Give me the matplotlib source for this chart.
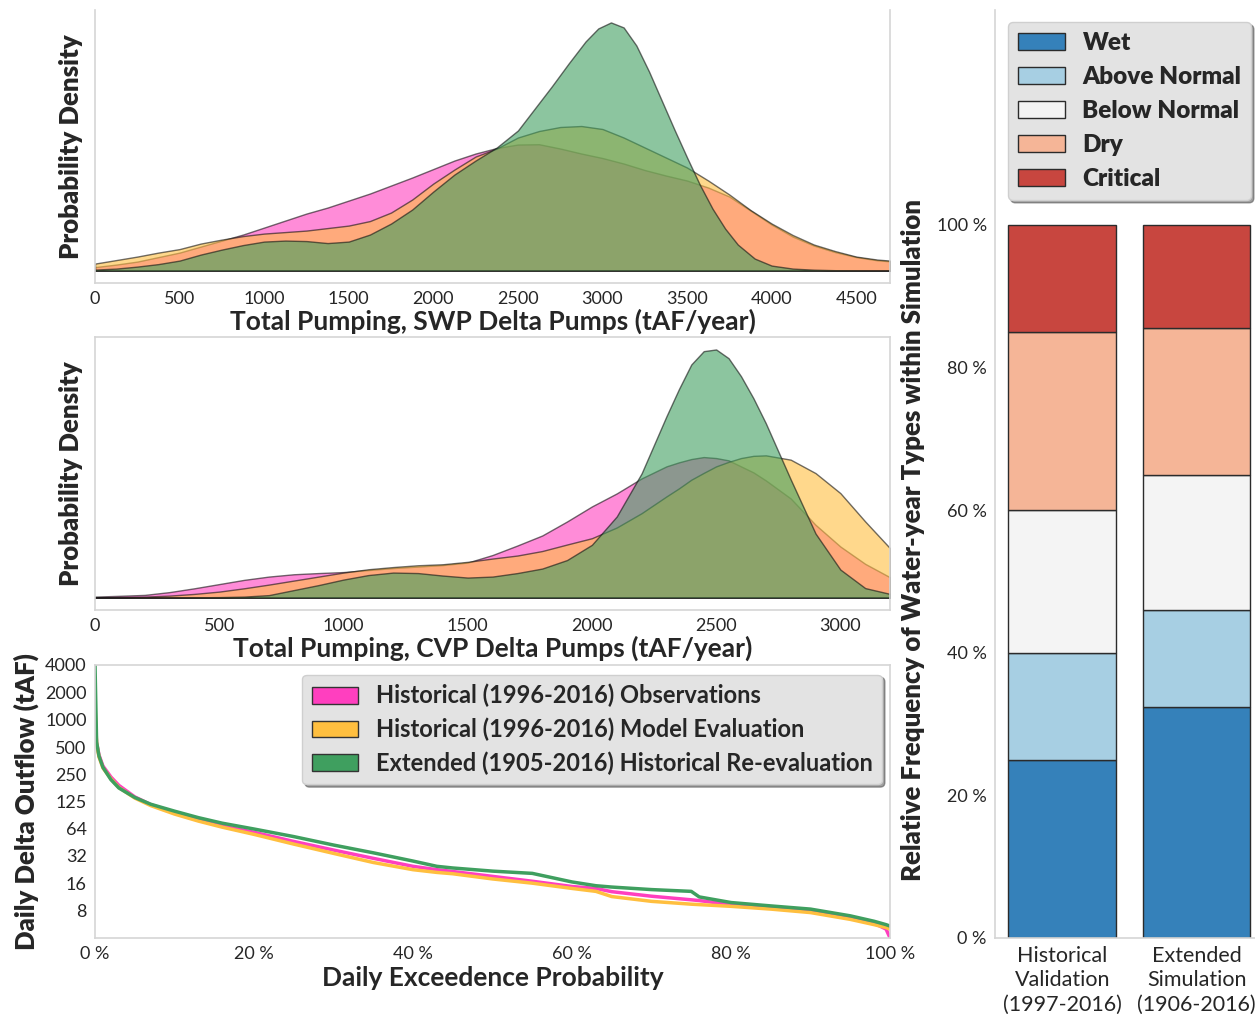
import numpy as np
import matplotlib

matplotlib.use('Agg')

import matplotlib.pyplot as plt
from matplotlib.patches import Patch

plt.rcParams['font.family'] = ['Lato', 'DejaVu Sans']

# ---- series names / colours
series_names = ['Historical (1996-2016) Observations',
                'Historical (1996-2016) Model Evaluation',
                'Extended (1905-2016) Historical Re-evaluation']
series_cols = ['#ff3fbf', '#ffbf3f', '#3f9f5f']

# ---- SWP pumping density (relative units)
swp_x = [0, 125, 250, 375, 500, 625, 750, 875, 1000, 1125, 1250, 1375, 1500, 1625,
         1750, 1875, 2000, 2125, 2250, 2375, 2500, 2625, 2750, 2875, 3000, 3125,
         3250, 3375, 3500, 3625, 3750, 3875, 4000, 4125, 4250, 4375, 4500, 4625, 4700]
swp_obs = [3.5, 6, 9, 13.5, 18, 24, 30, 36, 43, 50, 57, 63, 70, 77,
           85, 93, 101.5, 110, 117, 122.5, 126, 126.3, 122, 117, 112.5, 107,
           100.5, 95, 90, 83, 74, 60, 46, 34, 25, 18.5, 13.5, 10.3, 9.3]
swp_mod = [7, 10.5, 14, 18, 21.5, 27, 31, 34.5, 37, 38.5, 40, 42.5, 45, 49.5,
           58, 71, 87, 101, 114, 122, 133, 139.5, 143.5, 144.5, 141.5, 133,
           123, 113, 103, 90, 76, 60.5, 47, 35.5, 26, 19.5, 14, 11, 10]
swp_ext_x = [0, 125, 250, 375, 500, 625, 750, 875, 1000, 1125, 1250, 1375, 1500, 1625,
             1750, 1875, 2000, 2125, 2250, 2375, 2500, 2600, 2700, 2800, 2900, 2975,
             3050, 3125, 3200, 3275, 3350, 3425, 3500, 3575, 3650, 3725, 3800, 3900,
             4000, 4125, 4250, 4375, 4500, 4700]
swp_ext = [1, 2, 4, 6.5, 10, 16, 21, 25.5, 29, 30, 29.5, 27.5, 29, 36,
           47, 61, 79, 96, 110, 123, 140, 162, 184, 207, 229, 242,
           248, 243, 225, 199, 170, 141, 113, 86, 62, 42, 26, 12,
           5, 2, 0.9, 0.4, 0.2, 0]

# ---- CVP pumping density
cvp_x = [0, 100, 200, 300, 400, 500, 600, 700, 800, 900, 1000, 1100, 1200, 1300,
         1400, 1500, 1600, 1700, 1800, 1900, 2000, 2100, 2200, 2300, 2350, 2400,
         2450, 2500, 2550, 2600, 2650, 2700, 2800, 2900, 3000, 3100, 3200]
cvp_obs = [1, 1.8, 2.7, 5.5, 9.3, 13.5, 17.7, 21, 23.3, 24.5, 25.5, 27.5, 29.5, 31,
           32.5, 35, 42.5, 52, 62, 76, 91, 104, 119, 131, 135, 138.3,
           140.3, 139.3, 137, 131, 125, 117, 99, 72.7, 51, 33.7, 20.3]
cvp_mod = [0, 0.5, 1, 2, 3.7, 6, 9.3, 13, 17, 21, 25, 28.3, 30.5, 32.3,
           33.3, 35.7, 39, 42, 46.5, 53, 59.3, 70, 84.3, 101, 109, 117.7,
           124.5, 131, 135.5, 139.3, 141.5, 142, 137.7, 124.3, 104.3, 76, 49.3]
cvp_ext = [0, 0, 0, 0.1, 0.3, 0.5, 1, 2.5, 7.5, 12.5, 18, 22.5, 25, 24.5,
           22, 20, 21, 24.5, 29, 37.5, 52.7, 81, 124, 181, 208, 232.7,
           246, 247.7, 239, 221, 199, 174, 118, 64, 28, 9.5, 3.7]

# ---- daily delta outflow exceedance (tAF)
exc_p = [0, 0.2, 0.5, 1, 2, 3, 5, 7, 10, 13, 16, 20, 25, 30, 35, 40, 43, 45,
         50, 55, 60, 63, 65, 70, 75, 76, 80, 85, 90, 95, 98, 99.5, 100]
exc_obs = [1000, 560, 410, 310, 235, 190, 142, 117, 95, 80, 68, 58, 46, 37, 30,
           24.5, 22.5, 21.5, 19, 16.8, 14.7, 14, 12.9, 11.5, 10.5, 10.3, 9.3,
           8.6, 7.9, 6.7, 5.8, 5.0, 4.0]
exc_mod = [1400, 550, 390, 295, 225, 180, 138, 114, 92, 77, 66, 55, 43, 34, 27,
           22.5, 21, 20.3, 17.8, 16, 14, 13, 11.4, 10.1, 9.4, 9.3, 8.9,
           8.3, 7.6, 6.4, 5.6, 5.2, 5.0]
exc_ext = [4000, 570, 400, 300, 220, 178, 140, 118, 99, 84, 73, 63, 52, 42, 34.5,
           28, 24.5, 23.5, 21.7, 20.5, 16.5, 15, 14.5, 13.6, 13, 11.3, 9.8,
           9, 8.3, 7, 6.1, 5.6, 5.4]
exc_yticks = [8, 16, 32, 64, 125, 250, 500, 1000, 2000, 4000]
pct_ticks = [0, 20, 40, 60, 80, 100]

# ---- water-year types
wy_types = ['Wet', 'Above Normal', 'Below Normal', 'Dry', 'Critical']
wy_cols = ['#3581ba', '#a7cfe3', '#f4f4f4', '#f5b597', '#c8463f']
wy_groups = ['Historical\nValidation\n(1997-2016)', 'Extended\nSimulation\n(1906-2016)']
wy_hist = [5 / 20, 3 / 20, 4 / 20, 5 / 20, 3 / 20]
wy_ext = [36 / 111, 15 / 111, 21 / 111, 23 / 111, 16 / 111]

spine_col = '#d5d5d5'
txt_col = '#262626'
xlab_size = 19
ylab_size = 18.5


def style_ax(ax, top=True):
    for s in ax.spines.values():
        s.set_color(spine_col)
        s.set_linewidth(1.2)
    ax.spines['top'].set_visible(top)
    ax.tick_params(length=0, labelsize=13, labelcolor=txt_col, pad=6)


def density_panel(ax, xs, ys, xmax, xlab, top=True):
    for x, y, c in zip(xs, ys, series_cols):
        ax.fill_between(x, 0, y, facecolor=c, edgecolor='#111111', alpha=0.6, linewidth=1.0)
    ax.set_xlim(0, xmax)
    ax.margins(y=0.05)
    ax.set_yticks([])
    ax.set_xticks(np.arange(0, xmax, 500))
    ax.set_xlabel(xlab, fontsize=xlab_size, fontweight='bold', color=txt_col, labelpad=1)
    ax.set_ylabel('Probability Density', fontsize=ylab_size, fontweight='heavy', color=txt_col, labelpad=9)
    style_ax(ax, top)


fig = plt.figure(figsize=(12.55, 10.14), dpi=100)
ax1 = fig.add_axes([0.0757, 0.7209, 0.6335, 0.2692])
ax2 = fig.add_axes([0.0757, 0.3984, 0.6335, 0.2692])
ax3 = fig.add_axes([0.0757, 0.0750, 0.6335, 0.2692])
ax4 = fig.add_axes([0.7928, 0.0750, 0.2143, 0.9152])

density_panel(ax1, [swp_x, swp_x, swp_ext_x], [swp_obs, swp_mod, swp_ext], 4700,
              'Total Pumping, SWP Delta Pumps (tAF/year)', top=False)
density_panel(ax2, [cvp_x] * 3, [cvp_obs, cvp_mod, cvp_ext], 3200,
              'Total Pumping, CVP Delta Pumps (tAF/year)')

# exceedance curves
for y, c in zip([exc_obs, exc_mod, exc_ext], series_cols):
    ax3.plot(exc_p, y, color=c, linewidth=2.5)
ax3.set_yscale('log', base=2)
ax3.set_ylim(4, 4000)
ax3.set_xlim(0, 100)
ax3.set_yticks(exc_yticks)
ax3.set_yticklabels([str(v) for v in exc_yticks])
ax3.minorticks_off()
ax3.set_xticks(pct_ticks)
ax3.set_xticklabels(['%d %%' % p for p in pct_ticks])
ax3.set_xlabel('Daily Exceedence Probability', fontsize=xlab_size, fontweight='bold', color=txt_col, labelpad=3)
ax3.set_ylabel('Daily Delta Outflow (tAF)', fontsize=ylab_size, fontweight='heavy', color=txt_col, labelpad=4)
style_ax(ax3)
handles = [Patch(facecolor=c, edgecolor='#333333', label=n) for c, n in zip(series_cols, series_names)]
leg = ax3.legend(handles=handles, loc='upper right', bbox_to_anchor=(0.99, 0.965), borderaxespad=0,
                 prop={'size': 17, 'weight': 'bold'}, handlelength=1.97, handleheight=0.71,
                 labelspacing=0.43, handletextpad=0.75, frameon=True, fancybox=True, shadow=True,
                 facecolor='#e3e3e3', edgecolor='#cfcfcf', framealpha=1)
for t in leg.get_texts():
    t.set_color(txt_col)

# water-year type stacked bars
xb = np.arange(len(wy_groups))
bottoms = np.zeros(len(wy_groups))
for i, (name, c) in enumerate(zip(wy_types, wy_cols)):
    vals = np.array([wy_hist[i], wy_ext[i]])
    ax4.bar(xb, vals, 0.8, bottom=bottoms, color=c, edgecolor='#2b2b2b', linewidth=1.0, label=name)
    bottoms += vals
ax4.set_xlim(-0.5, 1.5)
ax4.set_ylim(0, 1.3015)
ax4.set_yticks(np.arange(0, 1.01, 0.2))
ax4.set_yticklabels(['%d %%' % round(v * 100) for v in np.arange(0, 1.01, 0.2)])
ax4.set_xticks(xb)
style_ax(ax4, top=False)
ax4.set_xticklabels(wy_groups, fontsize=15.5, linespacing=1.26)
ax4.spines['right'].set_visible(False)
ax4.set_ylabel('Relative Frequency of Water-year Types within Simulation', fontsize=ylab_size,
               fontweight='heavy', color=txt_col)
ax4.yaxis.set_label_coords(-0.26, 0.429)
leg2 = ax4.legend(loc='upper left', bbox_to_anchor=(0.048, 0.987), borderaxespad=0,
                  prop={'size': 17.5, 'weight': 'heavy'}, handlelength=1.93, handleheight=0.7,
                  labelspacing=0.5, handletextpad=0.74, frameon=True, fancybox=True, shadow=True,
                  facecolor='#e3e3e3', edgecolor='#cfcfcf', framealpha=1)
for t in leg2.get_texts():
    t.set_color(txt_col)

fig.savefig('out.png', dpi=100)
